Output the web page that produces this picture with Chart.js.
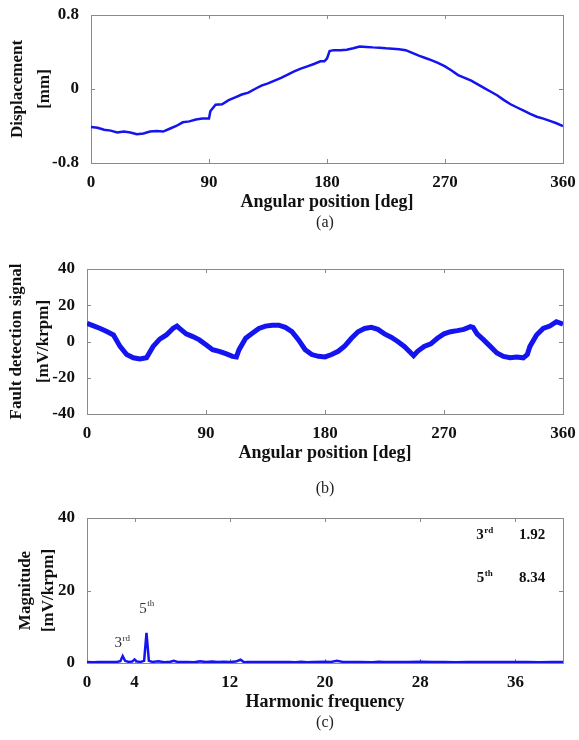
<!DOCTYPE html>
<html>
<head>
<meta charset="utf-8">
<script src="https://cdn.jsdelivr.net/npm/chart.js@4.4.1/dist/chart.umd.min.js"></script>
<style>
  body { margin: 0; background: #fff; width: 579px; height: 740px; position: relative; overflow: hidden; font-family: "Liberation Serif", serif; }
  canvas { position: absolute; left: 0; }
  .cap { position: absolute; left: 87px; width: 476px; text-align: center; font-size: 16px; line-height: 18px; color: #222; }
</style>
</head>
<body>
<canvas id="chartA" width="579" height="240" style="top:0px"></canvas>
<div class="cap" style="top:213px">(a)</div>
<canvas id="chartB" width="579" height="240" style="top:240px"></canvas>
<div class="cap" style="top:479px">(b)</div>
<canvas id="chartC" width="579" height="250" style="top:490px"></canvas>
<div class="cap" style="top:713px">(c)</div>

<script>
// (a) displacement vs angular position
const angleA = [0, 5, 10, 15, 20, 25, 30, 35, 40, 45, 50, 55, 60, 65, 70, 75, 80, 85, 90, 91,
  95, 100, 105, 110, 115, 120, 125, 130, 135, 140, 145, 150, 155, 160, 165, 170, 175, 178, 180, 182,
  185, 190, 195, 200, 205, 210, 215, 220, 225, 230, 235, 240, 245, 250, 255, 260, 265, 270, 275, 280,
  285, 290, 295, 300, 305, 310, 315, 320, 325, 330, 335, 340, 345, 350, 355, 360];
const displacement = [-0.41, -0.42, -0.44, -0.45, -0.47, -0.46, -0.47, -0.49, -0.48, -0.46, -0.455, -0.46, -0.43, -0.40, -0.36, -0.35, -0.33, -0.32, -0.32, -0.24,
  -0.17, -0.165, -0.12, -0.09, -0.06, -0.04, 0.0, 0.036, 0.06, 0.09, 0.12, 0.156, 0.19, 0.22, 0.245, 0.27, 0.30, 0.30, 0.33, 0.41,
  0.42, 0.42, 0.425, 0.44, 0.46, 0.455, 0.45, 0.447, 0.44, 0.436, 0.43, 0.42, 0.39, 0.36, 0.335, 0.31, 0.28, 0.245, 0.20, 0.15,
  0.12, 0.09, 0.05, 0.01, -0.03, -0.07, -0.12, -0.165, -0.20, -0.235, -0.27, -0.30, -0.32, -0.345, -0.37, -0.40];

// (b) fault detection signal
const angleB = [0, 5, 10, 15, 20, 25, 30, 35, 40, 45, 50, 55, 60, 65, 68, 70, 75, 80, 85, 90,
  95, 100, 105, 110, 113, 115, 120, 125, 130, 135, 140, 145, 150, 155, 160, 165, 170, 175, 180, 185,
  190, 195, 200, 205, 210, 215, 220, 225, 230, 235, 240, 245, 247, 250, 255, 260, 265, 270, 275, 280,
  285, 290, 292, 295, 300, 305, 310, 315, 320, 325, 330, 333, 335, 340, 345, 350, 355, 360];
const faultSignal = [10, 8.6, 7.2, 5.5, 3.6, -2.7, -7.2, -9, -9.6, -9, -2.7, 1.3, 3.6, 7.2, 8.5, 7.2, 4.2, 2.7, 0.9, -1.8,
  -4.5, -5.4, -6.7, -8.2, -8.5, -4.5, 1.8, 4.5, 7.2, 8.5, 9, 9, 7.8, 5.4, 0.9, -4.5, -7.2, -8.2, -8.5, -7.2,
  -5.4, -2.4, 1.8, 5.4, 7.2, 7.8, 6.7, 4.2, 2.4, 0, -2.7, -6.3, -7.8, -5.4, -2.7, -1.3, 1.8, 4.2, 5.4, 6,
  6.7, 8.2, 7.8, 4.2, 0.9, -2.7, -6.3, -8.2, -9, -8.5, -9, -7.2, -2.7, 3.6, 7.2, 8.5, 10.9, 9.6];

// (c) harmonic spectrum
const harmonicX = [0, 0.5, 1, 1.5, 2, 2.5, 2.8, 3, 3.2, 3.5, 3.8, 4, 4.2, 4.5, 4.8, 5, 5.2, 5.5, 6, 6.5,
  7, 7.3, 7.6, 8, 8.5, 9, 9.5, 10, 10.5, 11, 11.5, 12, 12.5, 12.9, 13.2, 13.5, 14, 15, 16, 17,
  17.5, 18, 18.5, 19, 20, 20.5, 21, 21.5, 22, 23, 24, 24.5, 25, 26, 27, 28, 29, 30, 31, 32,
  33, 34, 35, 36, 37, 38, 39, 40];
const magnitude = [0.3, 0.2, 0.25, 0.3, 0.25, 0.3, 0.5, 1.92, 0.6, 0.3, 0.4, 1.0, 0.4, 0.3, 0.6, 8.34, 0.6, 0.3, 0.5, 0.2,
  0.35, 0.6, 0.3, 0.25, 0.3, 0.2, 0.45, 0.25, 0.4, 0.25, 0.35, 0.3, 0.4, 0.9, 0.2, 0.3, 0.25, 0.3, 0.25, 0.3,
  0.2, 0.35, 0.2, 0.3, 0.35, 0.3, 0.6, 0.3, 0.3, 0.25, 0.2, 0.35, 0.3, 0.25, 0.3, 0.35, 0.3, 0.25, 0.2, 0.3,
  0.25, 0.3, 0.25, 0.3, 0.25, 0.2, 0.3, 0.3];
const harmonicTicks = [0, 4, 12, 20, 28, 36];
const harmonicNames = ['3', '5'];
const harmonicSups = ['rd', 'th'];
const harmonicMags = ['1.92', '8.34'];

const BLUE = '#1414f0';
const tickFont = { family: 'Liberation Serif', size: 17, weight: 'bold' };

// gray box with small inward ticks on all four sides, like MATLAB axes
const boxPlugin = {
  id: 'matlabBox',
  beforeDatasetsDraw(chart) {
    const { ctx, chartArea: a, scales } = chart;
    ctx.save();
    ctx.strokeStyle = '#8a8a8a';
    ctx.lineWidth = 1;
    ctx.strokeRect(a.left + 0.5, a.top + 0.5, a.right - a.left, a.bottom - a.top);
    ctx.beginPath();
    scales.x.ticks.forEach(t => {
      const px = Math.round(scales.x.getPixelForValue(t.value)) + 0.5;
      ctx.moveTo(px, a.bottom); ctx.lineTo(px, a.bottom - 4);
      ctx.moveTo(px, a.top); ctx.lineTo(px, a.top + 4);
    });
    scales.y.ticks.forEach(t => {
      const py = Math.round(scales.y.getPixelForValue(t.value)) + 0.5;
      ctx.moveTo(a.left, py); ctx.lineTo(a.left + 4, py);
      ctx.moveTo(a.right, py); ctx.lineTo(a.right - 4, py);
    });
    ctx.stroke();
    ctx.restore();
  }
};

function supText(ctx, x, y, base, sup, size, bold, align) {
  const w = bold ? 'bold ' : '';
  ctx.font = w + size + 'px "Liberation Serif"';
  const bw = ctx.measureText(base).width;
  ctx.font = w + Math.round(size * 0.62) + 'px "Liberation Serif"';
  const sw = ctx.measureText(sup).width;
  let x0 = align === 'center' ? x - (bw + sw) / 2 : x;
  ctx.textAlign = 'left';
  ctx.textBaseline = 'middle';
  ctx.font = w + size + 'px "Liberation Serif"';
  ctx.fillText(base, x0, y);
  ctx.font = w + Math.round(size * 0.62) + 'px "Liberation Serif"';
  ctx.fillText(sup, x0 + bw + 0.5, y - size * 0.3);
}

// harmonic labels on the spectrum
const harmonicLabels = {
  id: 'harmonicLabels',
  afterDatasetsDraw(chart) {
    const { ctx, scales: { x, y } } = chart;
    ctx.save();
    ctx.fillStyle = '#333';
    supText(ctx, x.getPixelForValue(2.95), y.getPixelForValue(5.4), harmonicNames[0], harmonicSups[0], 15, false, 'center');
    supText(ctx, x.getPixelForValue(5.0), y.getPixelForValue(15.0), harmonicNames[1], harmonicSups[1], 15, false, 'center');
    ctx.fillStyle = '#111';
    const rows = [35.3, 23.3];
    rows.forEach((v, i) => {
      supText(ctx, x.getPixelForValue(33.4), y.getPixelForValue(v), harmonicNames[i], harmonicSups[i], 15, true, 'center');
      ctx.font = 'bold 15px "Liberation Serif"';
      ctx.textAlign = 'center';
      ctx.fillText(harmonicMags[i], x.getPixelForValue(37.4), y.getPixelForValue(v));
    });
    ctx.restore();
  }
};

function makeChart(id, xs, ys, opts) {
  const points = xs.map((v, i) => ({ x: v, y: ys[i] }));
  return new Chart(document.getElementById(id), {
    type: 'line',
    data: {
      datasets: [{
        data: points,
        borderColor: BLUE,
        borderWidth: opts.lineWidth,
        pointRadius: 0,
        tension: 0,
        fill: false
      }]
    },
    options: {
      responsive: false,
      animation: false,
      devicePixelRatio: 1,
      layout: { padding: { left: 0, right: 16, top: opts.top, bottom: opts.bottom } },
      plugins: { legend: { display: false }, tooltip: { enabled: false } },
      scales: {
        x: {
          type: 'linear',
          min: opts.xMin, max: opts.xMax,
          grid: { display: false },
          border: { display: false },
          afterFit: s => { s.height = 50; s.paddingLeft = 0; s.paddingRight = 0; },
          afterBuildTicks: opts.xTicks ? s => { s.ticks = opts.xTicks.map(v => ({ value: v })); } : undefined,
          ticks: { stepSize: opts.xStep, font: tickFont, color: '#111', padding: 1, maxRotation: 0, autoSkip: false },
          title: { display: true, text: opts.xTitle, font: { family: 'Liberation Serif', size: 18, weight: 'bold' }, color: '#111', padding: 0 }
        },
        y: {
          min: opts.yMin, max: opts.yMax,
          grid: { display: false },
          border: { display: false },
          afterFit: s => { s.width = opts.yWidth; s.paddingTop = 0; s.paddingBottom = 0; },
          ticks: { stepSize: opts.yStep, font: tickFont, color: '#111', padding: 4 },
          title: { display: true, text: opts.yTitle, font: { family: 'Liberation Serif', size: 17, weight: 'bold', lineHeight: opts.titleLH }, color: '#111', padding: { top: opts.titlePad, bottom: 0 } }
        }
      }
    },
    plugins: opts.plugins
  });
}

makeChart('chartA', angleA, displacement, {
  top: 15, bottom: 27, yWidth: 91, lineWidth: 2.5,
  xMin: 0, xMax: 360, xStep: 90, yMin: -0.8, yMax: 0.8, yStep: 0.8,
  xTitle: 'Angular position [deg]', yTitle: ['Displacement', '[mm]'], titleLH: 1.6, titlePad: 4,
  plugins: [boxPlugin]
});

makeChart('chartB', angleB, faultSignal, {
  top: 29, bottom: 16, yWidth: 87, lineWidth: 5,
  xMin: 0, xMax: 360, xStep: 90, yMin: -40, yMax: 40, yStep: 20,
  xTitle: 'Angular position [deg]', yTitle: ['Fault detection signal', '[mV/krpm]'], titleLH: 1.6, titlePad: 3,
  plugins: [boxPlugin]
});

makeChart('chartC', harmonicX, magnitude, {
  top: 28, bottom: 27, yWidth: 87, lineWidth: 2.5,
  xMin: 0, xMax: 40, xTicks: harmonicTicks, yMin: 0, yMax: 40, yStep: 20,
  xTitle: 'Harmonic frequency', yTitle: ['Magnitude', '[mV/krpm]'], titleLH: 1.3, titlePad: 15,
  plugins: [boxPlugin, harmonicLabels]
});
</script>
</body>
</html>
